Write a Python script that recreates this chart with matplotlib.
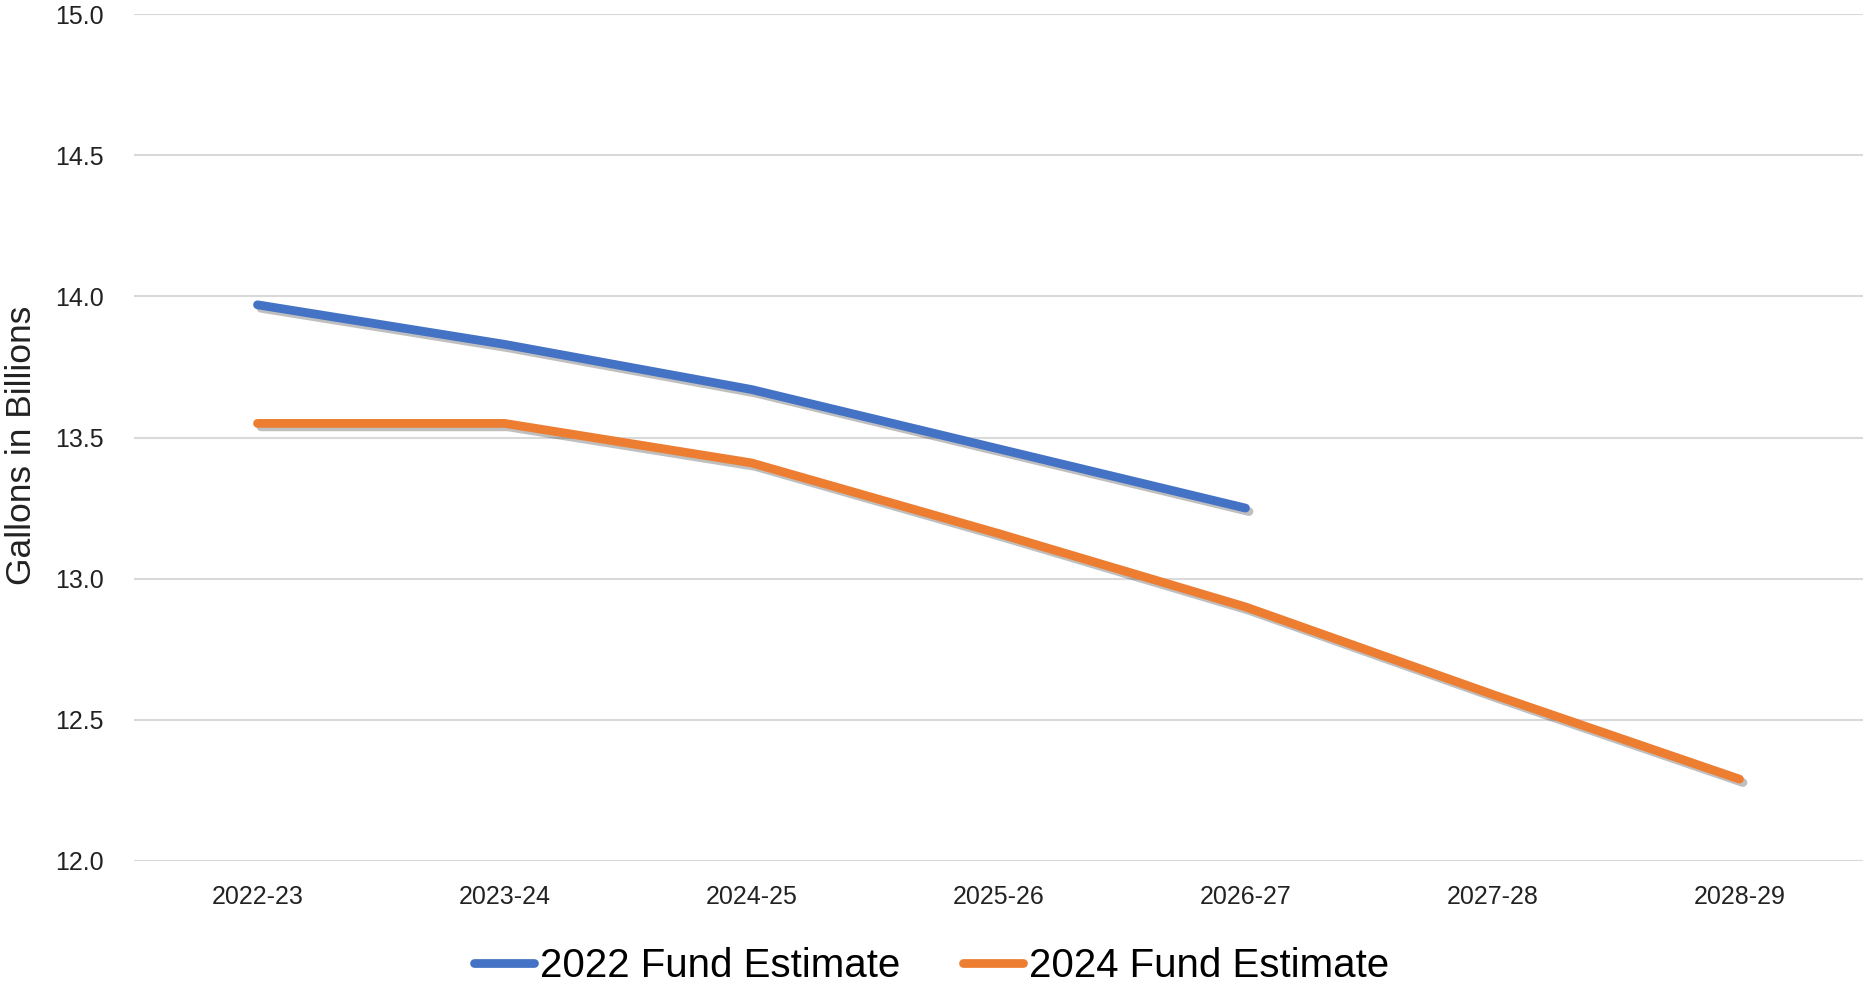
import matplotlib
matplotlib.use('Agg')
import matplotlib.pyplot as plt
import matplotlib.patheffects as pe
from matplotlib.lines import Line2D

# Data
years = ['2022-23', '2023-24', '2024-25', '2025-26', '2026-27', '2027-28', '2028-29']
fund_2022 = [13.97, 13.83, 13.67, 13.46, 13.25]
fund_2024 = [13.55, 13.55, 13.41, 13.16, 12.90, 12.59, 12.29]
y_ticks = [12.0, 12.5, 13.0, 13.5, 14.0, 14.5, 15.0]

plt.rcParams['font.family'] = ['Liberation Sans', 'DejaVu Sans']

fig = plt.figure(figsize=(18.63, 9.90), dpi=100)
ax = fig.add_axes([134 / 1863, 1 - 861 / 990, 1 - 134 / 1863, (861 - 14) / 990])

shadow = [pe.SimpleLineShadow(offset=(2.5, -2.5), shadow_color='black', alpha=0.25), pe.Normal()]

x = list(range(len(years)))
ax.plot(x[:len(fund_2022)], fund_2022, color='#4472C4', lw=6.3, solid_capstyle='round',
        solid_joinstyle='round', path_effects=shadow, zorder=3)
ax.plot(x, fund_2024, color='#ED7D31', lw=6.3, solid_capstyle='round',
        solid_joinstyle='round', path_effects=shadow, zorder=3)

ax.set_xlim(-0.5, len(years) - 0.5)
ax.set_ylim(12.0, 15.0)
ax.set_xticks(x)
ax.set_xticklabels(years)
ax.set_yticks(y_ticks)
ax.set_yticklabels([f'{v:.1f}' for v in y_ticks])
ax.tick_params(axis='both', length=0, labelsize=18, colors='#222222')
ax.tick_params(axis='x', pad=17)
ax.tick_params(axis='y', pad=22)
ax.grid(axis='y', color='#D9D9D9', lw=1.5)
ax.set_axisbelow(True)
for s in ax.spines.values():
    s.set_visible(False)

fig.text(22 / 1863, 1 - 445 / 990, 'Gallons in Billions', rotation=90,
         ha='center', va='center', fontsize=25.5, color='#222222')

# legend handles without the shadow
handles = [Line2D([], [], color='#4472C4', lw=6.3, solid_capstyle='round'),
           Line2D([], [], color='#ED7D31', lw=6.3, solid_capstyle='round')]
fig.legend(handles, ['2022 Fund Estimate', '2024 Fund Estimate'],
           loc='center', bbox_to_anchor=(0.5, 1 - 966 / 990), ncol=2, frameon=False,
           fontsize=29, handlelength=1.5, handletextpad=0.15, columnspacing=1.55)

fig.savefig('out.png', dpi=100)
